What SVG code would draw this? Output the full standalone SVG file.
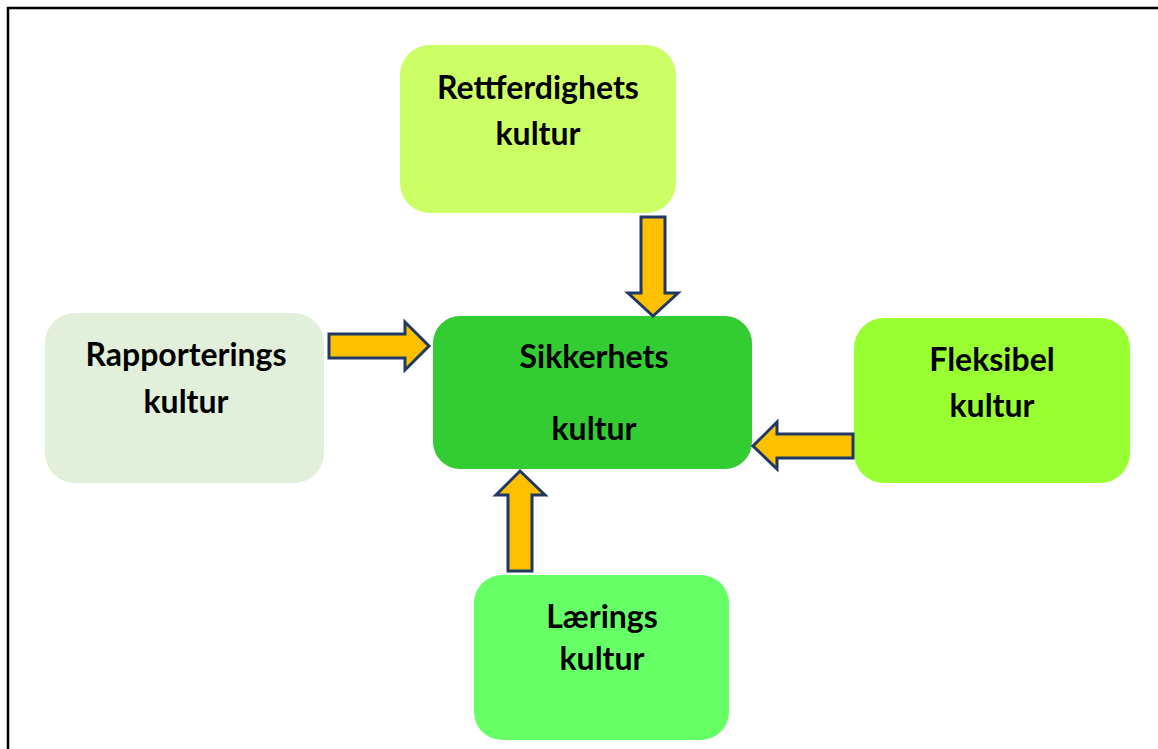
<svg xmlns="http://www.w3.org/2000/svg" width="1158" height="749" viewBox="0 0 1158 749">
  <style>
    .box { stroke: none; }
    .lbl { font-family: Lato, "Open Sans", "Liberation Sans", sans-serif; font-weight: bold; font-size: 32px; fill: #000; text-anchor: middle; }
    .arrow { fill: #FFC000; stroke: #1F3864; stroke-width: 3; stroke-linejoin: miter; }
  </style>
  <rect width="1158" height="749" fill="#fff"/>
  <!-- frame -->
  <path d="M8 749 V8 H1158" fill="none" stroke="#000" stroke-width="2.5"/>

  <g id="rettferdighets">
    <rect class="box" x="400" y="45" width="276" height="168" rx="30" fill="#CCFF66"/>
    <text class="lbl" x="538" y="99">Rettferdighets</text>
    <text class="lbl" x="538" y="145">kultur</text>
  </g>
  <g id="rapporterings">
    <rect class="box" x="45" y="313" width="279" height="170" rx="30" fill="#E2EFDA"/>
    <text class="lbl" x="186" y="366">Rapporterings</text>
    <text class="lbl" x="186" y="413">kultur</text>
  </g>
  <g id="sikkerhets">
    <rect class="box" x="433" y="316" width="319" height="153" rx="27" fill="#33CC33"/>
    <text class="lbl" x="594" y="368">Sikkerhets</text>
    <text class="lbl" x="594" y="440">kultur</text>
  </g>
  <g id="fleksibel">
    <rect class="box" x="854" y="318" width="276" height="165" rx="30" fill="#99FF33"/>
    <text class="lbl" x="992" y="371">Fleksibel</text>
    <text class="lbl" x="992" y="417">kultur</text>
  </g>
  <g id="laerings">
    <rect class="box" x="474" y="575" width="255" height="165" rx="28" fill="#66FF66"/>
    <text class="lbl" x="602" y="628">Lærings</text>
    <text class="lbl" x="602" y="670">kultur</text>
  </g>

  <g id="connectors">
    <!-- Rapporterings → Sikkerhets -->
    <path class="arrow" d="M329 334 H405 V322 L429 346 L405 370 V358 H329 Z"/>
    <!-- Rettferdighets → Sikkerhets -->
    <path class="arrow" d="M641 217 H665 V293 H678 L653 316 L628 293 H641 Z"/>
    <!-- Fleksibel → Sikkerhets -->
    <path class="arrow" d="M853 434 V458 H777 V469 L753 446 L777 422 V434 Z"/>
    <!-- Lærings → Sikkerhets -->
    <path class="arrow" d="M508 571 V495 H496 L520 471 L545 495 H532 V571 Z"/>
  </g>
</svg>
